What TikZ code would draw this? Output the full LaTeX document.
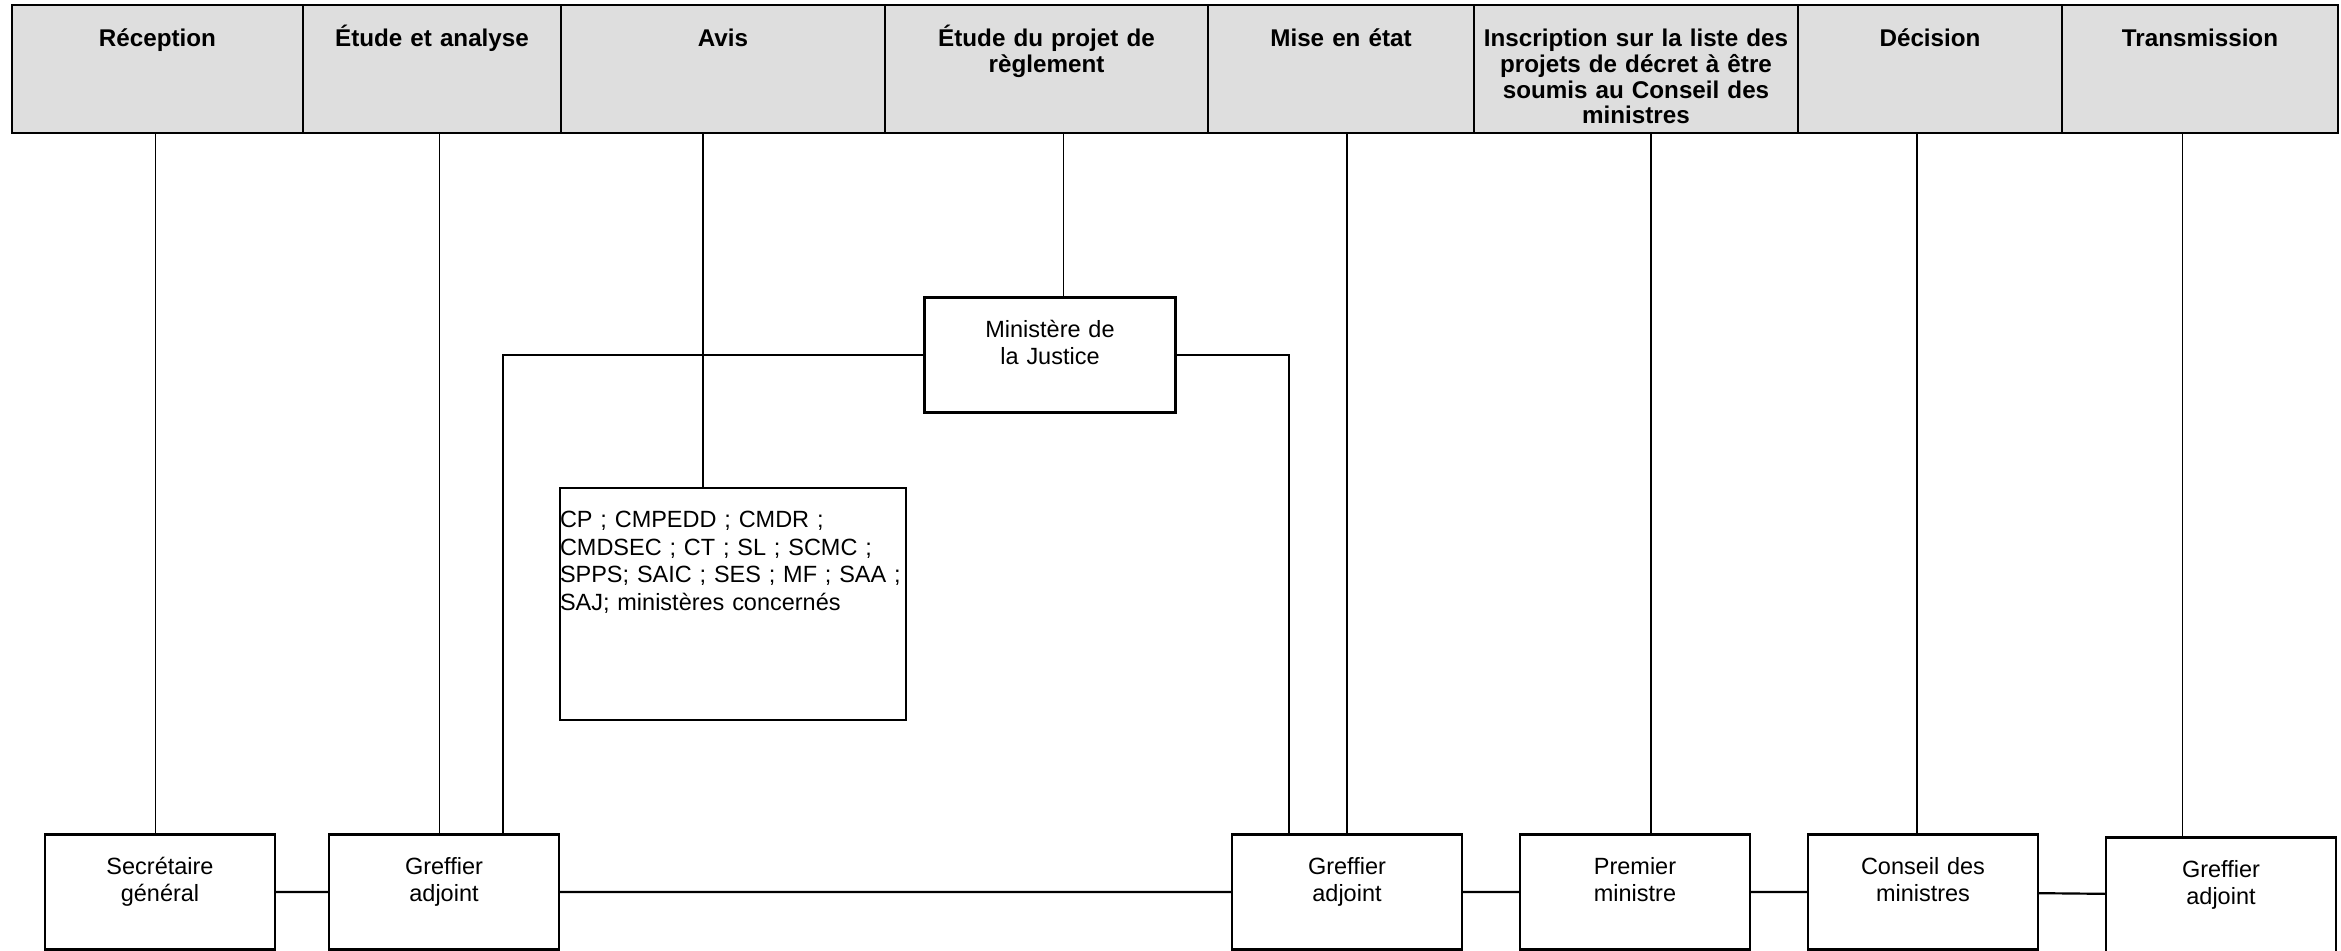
\documentclass[tikz,border=0pt]{standalone}
\usepackage{fontspec}
\setmainfont{Liberation Sans}
\definecolor{headgray}{RGB}{222,222,222}

\begin{document}
\begin{tikzpicture}[x=0.413pt, y=-0.413pt,
  cell/.style={draw, fill=headgray, line width=1.1pt, inner xsep=3pt, inner ysep=0pt, align=center,
    text height=17.3pt, text depth=35.6pt, font=\bfseries\fontsize{10}{10.6}\selectfont},
  box/.style={draw, line width=0.9pt, inner sep=0pt, text width=95pt, align=center,
    text height=16.5pt, text depth=31pt, font=\fontsize{9.7}{11.3}\selectfont},
  link/.style={line width=0.9pt},
  feed/.style={line width=0.45pt}]
\useasboundingbox (0,0) rectangle (2341,951);

% header row
\foreach \l/\r/\txt [count=\i] in {12/303/Réception, 303/561/Étude et analyse, 561/885/Avis,
  885/1208/{Étude du projet de\\règlement}, 1208/1474/Mise en état,
  1474/1798/{Inscription sur la liste des\\projets de décret à être\\soumis au Conseil des\\ministres},
  1798/2062/Décision, 2062/2338/Transmission}
{
  \pgfmathsetmacro\cellw{(\r-\l)*0.413-6}
  \node[cell, text width=\cellw pt] (h\i) at ({(\l+\r)/2},69) {\txt};
}

% boxes
\node[box] (sec) at (160,892) {Secrétaire\\général};
\node[box] (gre1) at (444,892) {Greffier\\adjoint};
\node[box, text width=142.9pt, align=left, text depth=79.3pt] (cp) at (733,604)
  {CP ; CMPEDD ; CMDR ;\\CMDSEC ; CT ; SL ; SCMC ;\\SPPS; SAIC ; SES ; MF ; SAA ;\\SAJ; ministères concernés};
\node[box, text width=103.7pt] (min) at (1050,355) {Ministère de\\la Justice};
\node[box] (gre2) at (1347,892) {Greffier\\adjoint};
\node[box] (pm) at (1635,892) {Premier\\ministre};
\node[box] (cdm) at (1923,892) {Conseil des\\ministres};
\node[box] (gre3) at (2221,895) {Greffier\\adjoint};

% lines from the header
\foreach \b/\h/\dx in {sec/1/-2, gre1/2/-2, cp/3/-12.4, min/4/5.4, gre2/5/0, pm/6/6.6, cdm/7/-2.5, gre3/8/-16}
{
  \coordinate (t) at ([xshift=\dx pt]\b.north);
  \draw[feed] (t) -- (t |- h\h.south);
}

% links
\draw[link] (min.west) -| ([xshift=24.4pt]gre1.north);
\draw[link] (min.east) -| ([xshift=-24pt]gre2.north);
\draw[link] (sec) -- (gre1) -- (gre2) -- (pm) -- (cdm) -- (gre3);
\end{tikzpicture}
\end{document}
